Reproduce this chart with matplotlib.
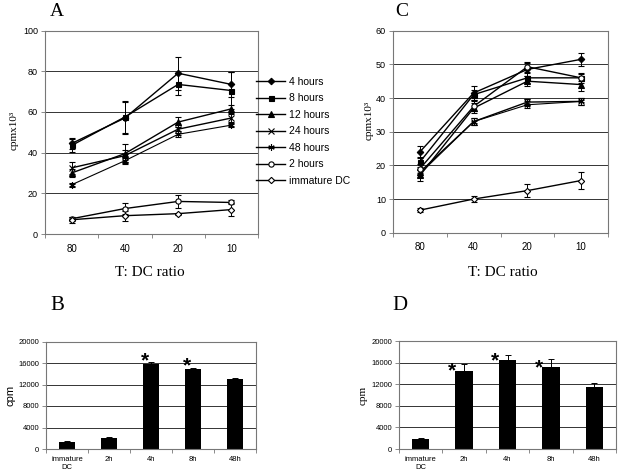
import matplotlib
matplotlib.use("Agg")
import matplotlib.pyplot as plt
from matplotlib.ticker import FixedLocator
from matplotlib.lines import Line2D

# ---------------- data ----------------
ratios = ['80', '40', '20', '10']
series_labels = ['4 hours', '8 hours', '12 hours', '24 hours', '48 hours', '2 hours', 'immature DC']

# Panel A (cpm x 10^3)
a_4h = [44.5, 57, 79, 73.5]
a_8h = [43.5, 57.5, 73.5, 70.5]
a_12h = [30, 39.5, 55, 61.5]
a_24h = [32.5, 38.5, 51.5, 57]
a_48h = [24.2, 36, 49, 53.5]
a_2h = [7.5, 12.5, 16, 15.5]
a_imm = [7, 9, 10, 12]
ea_4h = [2.5, 8, 8, 6]
ea_8h = [3, 8, 5, 9]
ea_12h = [2, 4.5, 2.5, 2]
ea_24h = [3, 3, 2, 2]
ea_48h = [1, 1.5, 1.5, 1]
ea_2h = [1, 2.5, 3, 1]
ea_imm = [1.5, 2.5, 0.5, 3]

# Panel C (cpm x 10^3)
c_4h = [24, 41.5, 48.5, 51.5]
c_8h = [21, 41, 46, 46]
c_12h = [17, 37, 45, 44]
c_24h = [18, 33, 38.8, 39]
c_48h = [17.5, 33, 38, 39]
c_2h = [19, 37.5, 49.3, 46]
c_imm = [6.7, 10, 12.5, 15.5]
ec_4h = [1.8, 2, 2, 2]
ec_8h = [1.5, 1.5, 1.5, 1.5]
ec_12h = [1.5, 1.5, 1.5, 2]
ec_24h = [1, 1, 1, 1]
ec_48h = [1, 1, 1, 1]
ec_2h = [1.5, 1.5, 1.5, 1]
ec_imm = [0.5, 1, 2, 2.5]

# Panels B and D (cpm)
bar_labels = ['immature\nDC', '2h', '4h', '8h', '48h']
b_vals = [1300, 2050, 15800, 14900, 13000]
b_err = [250, 250, 450, 150, 200]
b_star = [False, False, True, True, False]
d_vals = [1800, 14500, 16400, 15100, 11400]
d_err = [250, 1200, 1000, 1500, 800]
d_star = [False, True, True, True, False]

# ---------------- styling ----------------
W, H = 619, 475
SANS = ['Liberation Sans', 'DejaVu Sans']
SERIF = ['Liberation Serif', 'DejaVu Serif']
plt.rcParams['font.family'] = SANS

fig = plt.figure(figsize=(W / 100, H / 100), dpi=100)


def px_axes(l, t, r, b):
    return fig.add_axes([l / W, 1 - b / H, (r - l) / W, (b - t) / H])


styles = [
    dict(marker='D', mfc='black', ms=3.3),
    dict(marker='s', mfc='black', ms=3.6),
    dict(marker='^', mfc='black', ms=4.0),
    dict(marker='x', mfc='black', ms=3.8),
    dict(marker=(6, 2, 0), mfc='black', ms=4.6),
    dict(marker='o', mfc='white', ms=3.8),
    dict(marker='D', mfc='white', ms=3.2),
]
lws = [1.0, 1.0, 1.0, 1.0, 0.8, 1.0, 1.0]

SPINE = '#777777'
GRID = '#333333'


def style_frame(ax, tick_fs):
    for s in ax.spines.values():
        s.set_color(SPINE)
        s.set_linewidth(0.8)
    ax.yaxis.grid(True, color=GRID, linewidth=0.7)
    ax.set_axisbelow(True)
    ax.tick_params(axis='y', which='major', length=3, width=0.6, color=SPINE,
                   labelsize=tick_fs, pad=2)


def line_panel(ax, series, errs, ymax, ystep):
    x = list(range(len(ratios)))
    for vals, e, st, lw in zip(series, errs, styles, lws):
        ax.errorbar(x, vals, yerr=e, color='black', lw=lw, mec='black', mew=0.8,
                    capsize=2, elinewidth=0.7, capthick=0.7, **st)
    ax.set_xlim(-0.5, len(ratios) - 0.5)
    ax.set_ylim(0, ymax)
    ax.set_yticks(range(0, ymax + 1, ystep))
    ax.set_xticks(x)
    ax.set_xticklabels(ratios)
    ax.xaxis.set_minor_locator(FixedLocator([i - 0.5 for i in range(len(ratios) + 1)]))
    ax.tick_params(axis='x', which='major', length=0, labelsize=7, pad=7)
    ax.tick_params(axis='x', which='minor', length=3, width=0.6, color=SPINE)
    style_frame(ax, 6.5)


def bar_panel(ax, vals, err, stars, star_dx, star_dy):
    x = list(range(len(bar_labels)))
    ax.bar(x, vals, width=0.4, color='black', yerr=err,
           error_kw=dict(ecolor='black', elinewidth=0.7, capsize=2, capthick=0.7))
    for i, (v, e, s) in enumerate(zip(vals, err, stars)):
        if s:
            ax.annotate('*', xy=(i - 0.2, v), xytext=(star_dx, star_dy),
                        textcoords='offset points', ha='center', va='center',
                        fontsize=15, fontweight='bold', family=SANS)
    ax.set_xlim(-0.5, len(bar_labels) - 0.5)
    ax.set_ylim(0, 20000)
    ax.set_yticks(range(0, 20001, 4000))
    ax.set_xticks(x)
    ax.set_xticklabels(bar_labels)
    ax.xaxis.set_minor_locator(FixedLocator([i - 0.5 for i in range(len(bar_labels) + 1)]))
    ax.tick_params(axis='x', which='major', length=0, labelsize=5.5, pad=5)
    ax.tick_params(axis='x', which='minor', length=3, width=0.6, color=SPINE)
    style_frame(ax, 5.5)


# Panel A
axA = px_axes(45, 30.5, 258, 234)
line_panel(axA, [a_4h, a_8h, a_12h, a_24h, a_48h, a_2h, a_imm],
           [ea_4h, ea_8h, ea_12h, ea_24h, ea_48h, ea_2h, ea_imm], 100, 20)

# Panel C
axC = px_axes(393, 30.7, 608, 232.7)
line_panel(axC, [c_4h, c_8h, c_12h, c_24h, c_48h, c_2h, c_imm],
           [ec_4h, ec_8h, ec_12h, ec_24h, ec_48h, ec_2h, ec_imm], 60, 10)

# Panel B
axB = px_axes(46, 341.5, 256, 449)
bar_panel(axB, b_vals, b_err, b_star, 1.5, 2.5)

# Panel D
axD = px_axes(399, 341, 616, 449)
bar_panel(axD, d_vals, d_err, d_star, -2.5, 0)

# Legend between A and C
handles = [Line2D([], [], color='black', lw=1.0, mec='black', mew=0.8, **st) for st in styles]
fig.legend(handles, series_labels, loc='upper left', bbox_to_anchor=(256 / W, 1 - 77 / H),
           frameon=False, fontsize=7.5, handlelength=2.8, handletextpad=0.35,
           labelspacing=0.62, borderaxespad=0, borderpad=0)

# Panel letters
for letter, (px, py), fs in [('A', (57, 12), 14), ('C', (402, 11), 14),
                             ('B', (57, 305), 15), ('D', (400, 306), 15)]:
    fig.text(px / W, 1 - py / H, letter, ha='center', va='center', fontsize=fs, family=SERIF)

# Axis labels
fig.text(150 / W, 1 - 273 / H, 'T: DC ratio', ha='center', va='center', fontsize=11, family=SERIF)
fig.text(503 / W, 1 - 273 / H, 'T: DC ratio', ha='center', va='center', fontsize=11, family=SERIF)
fig.text(14 / W, 1 - 130 / H, 'cpmx10³', ha='center', va='center', fontsize=8, rotation=90, family=SERIF)
fig.text(369 / W, 1 - 120 / H, 'cpmx10³', ha='center', va='center', fontsize=8, rotation=90, family=SERIF)
fig.text(11 / W, 1 - 395 / H, 'cpm', ha='center', va='center', fontsize=8, rotation=90, family=SANS)
fig.text(363 / W, 1 - 395 / H, 'cpm', ha='center', va='center', fontsize=8, rotation=90, family=SERIF)

fig.savefig('out.png', dpi=100)
